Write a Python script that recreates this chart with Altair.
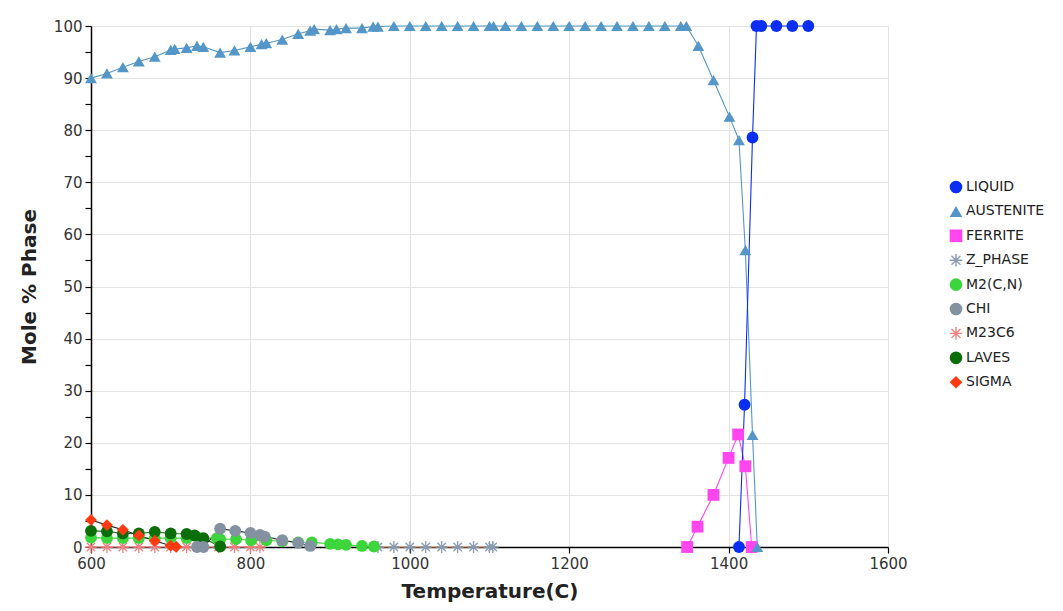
import altair as alt
import pandas as pd

# ---- data ----
PHASES = ["LIQUID", "AUSTENITE", "FERRITE", "Z_PHASE", "M2(C,N)", "CHI", "M23C6", "LAVES", "SIGMA"]
COLORS = ["#0b2ff2", "#5596c8", "#ff46ee", "#8a9bb0", "#3cd63c", "#8491a0", "#ef8080", "#0b6e0b", "#ff3a10"]
LINE_COLORS = ["#0b2ff2", "#5596c8", "#ff46ee", "#f0906a", "#3cd63c", "#222222", "#ef8080", "#1a7a1a", "#222222"]

T_LIQUID = [1413, 1420, 1430, 1435, 1441, 1460, 1480, 1500]
V_LIQUID = [0, 27.3, 78.6, 100, 100, 100, 100, 100]

T_AUSTENITE = [600, 620, 640, 660, 680, 700, 705, 720, 733, 741, 762, 780, 800, 814, 820, 840, 860, 875, 880,
               900, 908, 920, 940, 954, 960, 980, 1000, 1020, 1040, 1060, 1080, 1100, 1105, 1120, 1140, 1160,
               1180, 1200, 1220, 1240, 1260, 1280, 1300, 1320, 1340, 1347, 1362, 1381, 1401, 1413, 1421, 1430, 1436]
V_AUSTENITE = [90.0, 90.9, 92.1, 93.2, 94.1, 95.4, 95.6, 95.8, 96.2, 96.0, 94.9, 95.3, 96.0, 96.5, 96.7, 97.4,
               98.5, 99.1, 99.4, 99.2, 99.4, 99.6, 99.6, 99.9, 99.9, 100, 100, 100, 100, 100, 100, 100, 100, 100,
               100, 100, 100, 100, 100, 100, 100, 100, 100, 100, 100, 100, 96.2, 89.6, 82.6, 78.1, 57.0, 21.5, 0]

T_FERRITE = [1348, 1361, 1381, 1400, 1412, 1421, 1429]
V_FERRITE = [0, 3.9, 10.0, 17.1, 21.6, 15.5, 0]

T_ZPHASE = [960, 980, 1000, 1020, 1040, 1060, 1080, 1100, 1104]
V_ZPHASE = [0, 0, 0, 0, 0, 0, 0, 0, 0]

T_M2CN = [600, 620, 640, 660, 680, 700, 720, 737, 758, 762, 782, 801, 820, 840, 860, 877, 900, 910, 920, 940, 955]
V_M2CN = [1.8, 1.7, 1.7, 1.7, 1.7, 1.7, 1.7, 1.7, 1.7, 1.5, 1.5, 1.3, 1.3, 1.1, 0.9, 0.9, 0.6, 0.5, 0.4, 0.2, 0.1]

T_CHI = [733, 741, 762, 781, 800, 812, 818, 840, 860, 875]
V_CHI = [0, 0, 3.5, 3.1, 2.7, 2.3, 2.0, 1.3, 0.8, 0.2]

T_M23C6 = [600, 620, 640, 660, 680, 700, 720, 733, 741, 760, 780, 800, 812]
V_M23C6 = [0, 0, 0, 0, 0, 0, 0, 0, 0, 0, 0, 0, 0]

T_LAVES = [600, 620, 640, 660, 680, 700, 720, 730, 741, 762]
V_LAVES = [3.1, 3.0, 2.6, 2.6, 2.9, 2.6, 2.5, 2.2, 1.7, 0.1]

T_SIGMA = [600, 620, 640, 660, 680, 700, 707]
V_SIGMA = [5.2, 4.2, 3.3, 2.2, 1.2, 0.25, 0.05]

X_TICKS = [600, 800, 1000, 1200, 1400, 1600]
Y_TICKS = list(range(0, 105, 5))

# ---- build table ----
series = {
    "M23C6": (T_M23C6, V_M23C6),
    "Z_PHASE": (T_ZPHASE, V_ZPHASE),
    "M2(C,N)": (T_M2CN, V_M2CN),
    "LAVES": (T_LAVES, V_LAVES),
    "CHI": (T_CHI, V_CHI),
    "SIGMA": (T_SIGMA, V_SIGMA),
    "FERRITE": (T_FERRITE, V_FERRITE),
    "AUSTENITE": (T_AUSTENITE, V_AUSTENITE),
    "LIQUID": (T_LIQUID, V_LIQUID),
}
rows = []
for name, (ts, vs) in series.items():
    lc = LINE_COLORS[PHASES.index(name)]
    for t, v in zip(ts, vs):
        rows.append({"T": t, "V": v, "phase": name, "lc": lc})
df = pd.DataFrame(rows)

# asterisk shape as a filled polygon
def bar(pts):
    return "M" + "L".join(f"{x:.3f},{y:.3f}" for x, y in pts) + "Z"

w = 0.11
ASTER = (bar([(-1, -w), (1, -w), (1, w), (-1, w)]) +
         bar([(-w, -1), (w, -1), (w, 1), (-w, 1)]) +
         bar([(-0.629, -0.785), (0.785, 0.629), (0.629, 0.785), (-0.785, -0.629)]) +
         bar([(-0.785, 0.629), (0.629, -0.785), (0.785, -0.629), (-0.629, 0.785)]))
SHAPES = ["circle", "triangle-up", "square", ASTER, "circle", "circle", ASTER, "circle", "diamond"]

FONT = "DejaVu Sans"

x_enc = alt.X("T:Q", scale=alt.Scale(domain=[600, 1600], nice=False),
              axis=alt.Axis(values=X_TICKS, title="Temperature(C)", format="d", labelFlush=False))
y_enc = alt.Y("V:Q", scale=alt.Scale(domain=[0, 100], nice=False),
              axis=alt.Axis(values=Y_TICKS, title="Mole % Phase", labelFlush=False,
                            labelExpr="datum.value % 10 == 0 ? datum.label : ''",
                            gridOpacity={"expr": "datum.value % 10 == 0 ? 1 : 0"}))

lines = alt.Chart(df).mark_line(strokeWidth=1.1).encode(
    x=x_enc, y=y_enc,
    detail="phase:N",
    color=alt.Color("lc:N", scale=None),
    order=alt.Order("T:Q"),
)

points = alt.Chart(df).mark_point(filled=True, opacity=1, size=140, strokeWidth=0).encode(
    x=x_enc, y=y_enc,
    color=alt.Color("phase:N", scale=alt.Scale(domain=PHASES, range=COLORS),
                    legend=alt.Legend(title=None, orient="none", legendX=858, legendY=154,
                                      symbolSize=160, labelFontSize=14, labelFont=FONT,
                                      labelColor="#222", rowPadding=10.4, symbolStrokeWidth=0,
                                      labelOffset=3)),
    shape=alt.Shape("phase:N", scale=alt.Scale(domain=PHASES, range=SHAPES)),
)

chart = alt.layer(lines, points).properties(
    width=797, height=521,
    autosize=alt.AutoSizeParams(type="none"),
    padding={"left": 83, "top": 18, "right": 167, "bottom": 56},
    background="white",
).configure_view(stroke=None).configure_axis(
    labelFont=FONT, labelFontSize=15, labelColor="#333",
    titleFont=FONT, titleFontSize=20, titleFontWeight="bold", titleColor="#222",
    domainColor="#000", domainWidth=1.5, tickColor="#000", tickSize=6, tickWidth=1.2,
    gridColor="#e3e3e3", gridWidth=1,
).configure_axisX(titlePadding=10, labelPadding=3).configure_axisY(titlePadding=14, labelPadding=3)

chart.save("out.html", embed_options={"renderer": "svg", "actions": False})
